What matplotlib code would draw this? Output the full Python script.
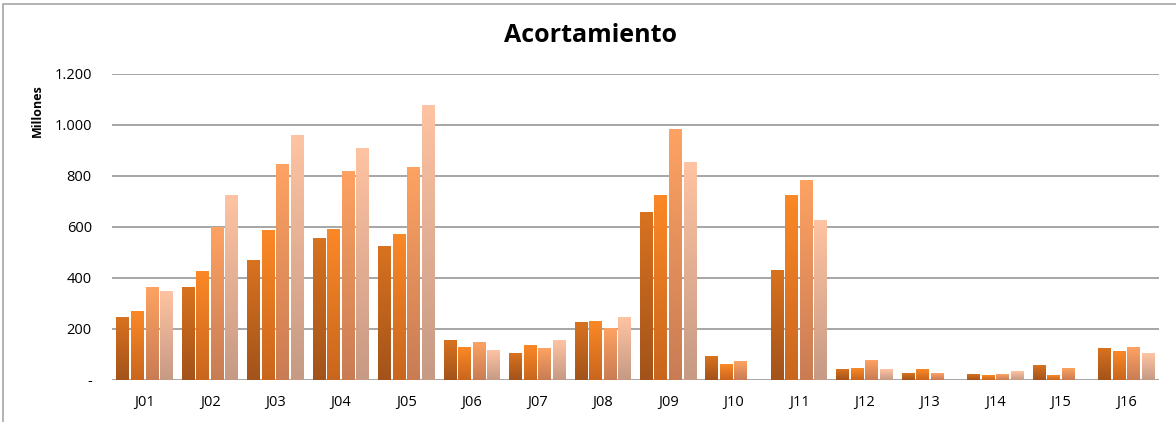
import numpy as np
import matplotlib.pyplot as plt
import matplotlib.colors as mcolors
from matplotlib.patches import Rectangle
from matplotlib.ticker import FuncFormatter

categories = ["J01", "J02", "J03", "J04", "J05", "J06", "J07", "J08",
              "J09", "J10", "J11", "J12", "J13", "J14", "J15", "J16"]
serie_1 = [247, 361, 467, 553, 522, 153, 102, 224, 655, 94, 431, 43, 24, 20, 55, 122]
serie_2 = [267, 427, 588, 592, 569, 129, 137, 231, 725, 59, 722, 47, 43, 16, 16, 110]
serie_3 = [361, 597, 847, 816, 835, 149, 122, 200, 984, 71, 784, 75, 27, 20, 47, 129]
serie_4 = [349, 722, 957, 906, 1075, 114, 153, 247, 851, 0, 624, 43, 0, 35, 0, 102]

# (top colour, bottom colour) for the gradient of each series
colores = [("#d8721f", "#a3531a"),
           ("#fb8826", "#c9661e"),
           ("#fda262", "#c97c54"),
           ("#fec3a2", "#c69a84")]

plt.rcParams['font.family'] = ['Open Sans', 'DejaVu Sans']

fig = plt.figure(figsize=(11.76, 4.22), dpi=100)
ax = fig.add_axes([112 / 1176, 1 - 380 / 422, (1159 - 112) / 1176, (380 - 74) / 422])

x = np.arange(len(categories))
step = 0.222
width = 0.198
series = [serie_1, serie_2, serie_3, serie_4]

for i, vals in enumerate(series):
    offs = (i - 1.5) * step
    bars = ax.bar(x + offs, vals, width=width, color="none", edgecolor="none", zorder=3)
    cmap = mcolors.LinearSegmentedColormap.from_list("g%d" % i, [colores[i][1], colores[i][0]])
    grad = np.linspace(0, 1, 64).reshape(-1, 1)
    for b in bars:
        h = b.get_height()
        if h <= 0:
            continue
        ax.imshow(grad, cmap=cmap, origin="lower", aspect="auto", zorder=3,
                  extent=(b.get_x(), b.get_x() + b.get_width(), 0, h),
                  interpolation="bilinear")

ax.set_xlim(-0.5, len(categories) - 0.5)
ax.set_ylim(0, 1200)
ax.set_yticks(range(0, 1201, 200))
ax.yaxis.set_major_formatter(FuncFormatter(
    lambda v, p: "-" if v == 0 else f"{int(v):,}".replace(",", ".")))
ax.set_xticks(x)
ax.set_xticklabels(categories)
ax.grid(axis="y", color="#a6a6a6", linewidth=1.4, zorder=1)
for s in ax.spines.values():
    s.set_visible(False)
ax.tick_params(axis="y", length=0, labelsize=10.5, colors="#000000", pad=14.5)
ax.tick_params(axis="x", length=0, labelsize=10.5, colors="#000000", pad=11)

# display-units label, placed near the top like the original
fig.text(37 / 1176, 1 - 111 / 422, "Millones", rotation=90, ha="center", va="center",
         fontsize=9, fontweight="bold")

fig.text(0.502, 1 - 35 / 422, "Acortamiento", ha="center", va="center",
         fontsize=18, fontweight="bold")

# chart frame
fig.patches.append(Rectangle((3 / 1176, -0.05), 1.2, 1 - 4 / 422 + 0.05,
                             transform=fig.transFigure, fill=False,
                             edgecolor="#a6a6a6", linewidth=1.2))

fig.savefig("out.png", dpi=100)
